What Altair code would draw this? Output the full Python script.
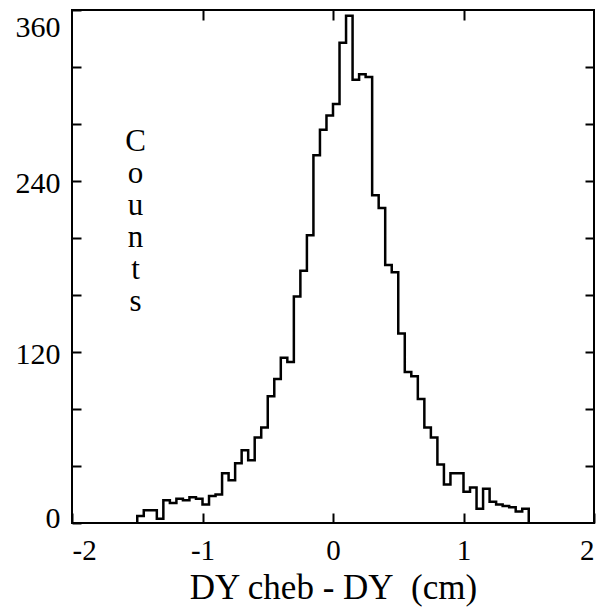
import altair as alt
import pandas as pd

# ---- data (bin width 0.05 cm) ----
bin_starts = [
    -1.50, -1.45, -1.40, -1.35, -1.30, -1.25, -1.20, -1.15, -1.10, -1.05,
    -1.00, -0.95, -0.90, -0.85, -0.80, -0.75, -0.70, -0.65, -0.60, -0.55,
    -0.50, -0.45, -0.40, -0.35, -0.30, -0.25, -0.20, -0.15, -0.10, -0.05,
    0.00, 0.05, 0.10, 0.15, 0.20, 0.25, 0.30, 0.35, 0.40, 0.45,
    0.50, 0.55, 0.60, 0.65, 0.70, 0.75, 0.80, 0.85, 0.90, 0.95,
    1.00, 1.05, 1.10, 1.15, 1.20, 1.25, 1.30, 1.35, 1.40, 1.45,
]
counts = [
    5, 9, 9, 3, 16, 14, 17, 16, 18, 17,
    13, 19, 20, 35, 30, 42, 51, 44, 60, 67,
    89, 101, 116, 113, 159, 177, 202, 258, 276, 286,
    294, 337, 356, 311, 315, 313, 230, 221, 181, 176,
    133, 106, 103, 87, 67, 60, 41, 27, 35, 35,
    22, 25, 10, 24, 15, 13, 12, 11, 8, 10,
]
bin_width = 0.05

x_label_values = [-2, -1, 0, 1, 2]
x_top_ticks = [-1, 0, 1]
y_tick_values = [0, 40, 80, 120, 160, 200, 240, 280, 320, 360]
y_label_step = 120

x_title = "DY cheb - DY\u00a0 (cm)"
y_title_letters = ["C", "o", "u", "n", "t", "s"]

# outline of the histogram as a step line dropping to zero at both ends
xs = [bin_starts[0]] + bin_starts + [bin_starts[-1] + bin_width]
ys = [0] + counts + [0]
df = pd.DataFrame({"x": xs, "y": ys, "i": list(range(len(xs)))})

FONT = "Liberation Serif"
W, H = 522, 513

x_scale = alt.Scale(domain=[-2, 2], nice=False, zero=False)
y_scale = alt.Scale(domain=[0, 360], nice=False, zero=True)

x_bottom = alt.Axis(
    orient="bottom", values=x_label_values, offset=-10, tickSize=10,
    tickWidth=2, tickColor="black", domain=False, grid=False,
    labelFont=FONT, labelFontSize=29, labelColor="black", labelPadding=13,
    labelExpr="replace(datum.label, '\u2212', '-')",
    title=x_title, titleFont=FONT, titleFontSize=35, titleFontWeight="normal",
    titleColor="black", titleX=W / 2, titleY=85, titleAlign="center",
    titleBaseline="alphabetic",
)
y_left = alt.Axis(
    orient="left", values=y_tick_values, offset=-9, tickSize=9,
    tickWidth=2, tickColor="black", domain=False, grid=False,
    labelFont=FONT, labelFontSize=30, labelColor="black", labelPadding=12,
    labelExpr=f"datum.value % {y_label_step} == 0 ? datum.label : ''",
    labelBaseline={"condition": {"test": "datum.value == 360", "value": "top"},
                   "value": "middle"},
    labelOffset={"condition": {"test": "datum.value == 0", "value": -5},
                 "value": 2},
    title=y_title_letters, titleAngle=0, titleFont=FONT, titleFontSize=31,
    titleFontWeight="normal", titleColor="black", titleX=54, titleY=116,
    titleAlign="center", titleBaseline="top", titleLineHeight=32,
)
x_top = alt.Axis(
    orient="top", values=x_top_ticks, offset=-10, tickSize=10, tickWidth=2,
    tickColor="black", domain=False, grid=False, labels=False, title=None,
)
y_right = alt.Axis(
    orient="right", values=y_tick_values[1:-1], offset=-9, tickSize=9,
    tickWidth=2, tickColor="black", domain=False, grid=False, labels=False,
    title=None,
)

hist = alt.Chart(df).mark_line(
    interpolate="step-after", color="black", strokeWidth=2.5
).encode(
    x=alt.X("x:Q", scale=x_scale, axis=x_bottom),
    y=alt.Y("y:Q", scale=y_scale, axis=y_left),
    order=alt.Order("i:Q"),
)

ticks_layer = alt.Chart(df).mark_line(
    interpolate="step-after", strokeOpacity=0
).encode(
    x=alt.X("x:Q", scale=x_scale, axis=x_top),
    y=alt.Y("y:Q", scale=y_scale, axis=y_right),
    order=alt.Order("i:Q"),
)

chart = alt.layer(hist, ticks_layer).resolve_axis(
    x="independent", y="independent"
).properties(
    width=W, height=H,
    autosize=alt.AutoSizeParams(type="none"),
    padding={"left": 72, "top": 10, "right": 9, "bottom": 84},
    background="white",
).configure_view(stroke="black", strokeWidth=2)

chart.save("out.html", embed_options={"renderer": "svg", "actions": False})
